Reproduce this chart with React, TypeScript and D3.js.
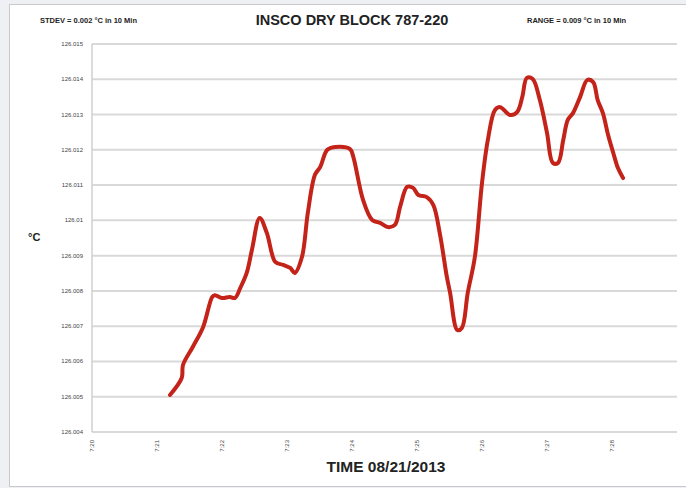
import React, { useEffect, useRef } from "react";
import * as d3 from "d3";

// time in tick intervals (0 = first label), temperature in °C
const times = [
  1.2, 1.38, 1.4, 1.55, 1.71, 1.85, 1.89, 2.0, 2.12, 2.2, 2.28, 2.38, 2.46, 2.58, 2.69, 2.82,
  2.94, 3.05, 3.12, 3.23, 3.32, 3.43, 3.51, 3.62, 3.74, 3.97, 4.02, 4.17, 4.31, 4.43, 4.55,
  4.66, 4.74, 4.85, 4.94, 5.02, 5.15, 5.25, 5.35, 5.46, 5.51, 5.62, 5.69, 5.78, 5.89, 6.0,
  6.09, 6.2, 6.28, 6.43, 6.54, 6.62, 6.69, 6.78, 6.89, 7.0, 7.09, 7.17, 7.25, 7.32, 7.4,
  7.51, 7.62, 7.71, 7.78, 7.86, 7.94, 8.02, 8.09, 8.17,
];
const temps = [
  126.00505, 126.00553, 126.0059, 126.00641, 126.00698, 126.00783, 126.00788, 126.0078,
  126.00783, 126.0078, 126.00808, 126.00851, 126.00916, 126.01007, 126.00964, 126.00882,
  126.00874, 126.00865, 126.00851, 126.00896, 126.01021, 126.01129, 126.01151, 126.012,
  126.01208, 126.01202, 126.0118, 126.01058, 126.01001, 126.00993, 126.00981, 126.00987,
  126.01038, 126.01095, 126.01092, 126.01072, 126.01066, 126.01044, 126.00964, 126.00839,
  126.00794, 126.00689, 126.00695, 126.00794, 126.00896, 126.01106, 126.01228, 126.01313,
  126.01321, 126.01299, 126.01307, 126.0135, 126.01404, 126.01401, 126.01341, 126.01248,
  126.01163, 126.01163, 126.01228, 126.01285, 126.01304, 126.0135, 126.01398, 126.01392,
  126.01341, 126.01304, 126.01242, 126.01191, 126.01149, 126.0112,
];
const yTicks = [
  126.004, 126.005, 126.006, 126.007, 126.008, 126.009, 126.01, 126.011, 126.012, 126.013,
  126.014, 126.015,
];
const xLabels = ["7:20", "7:21", "7:22", "7:23", "7:24", "7:25", "7:26", "7:27", "7:28"];

const W = 686;
const H = 488;

export default function App() {
  const svgRef = useRef<SVGSVGElement | null>(null);

  useEffect(() => {
    const svg = d3.select(svgRef.current);
    svg.selectAll("*").remove();
    const font = "'Liberation Sans', Arial, sans-serif";

    const m = { top: 44, right: 9, bottom: 56, left: 92 };
    const x = d3.scaleLinear().domain([0, 9]).range([m.left, W - m.right]);
    const y = d3.scaleLinear().domain([126.004, 126.015]).range([H - m.bottom, m.top]);

    // frame
    svg.append("rect").attr("width", W).attr("height", H).attr("fill", "#eff0f4");
    svg
      .append("rect")
      .attr("x", 9.5)
      .attr("y", 4.5)
      .attr("width", W)
      .attr("height", 482)
      .attr("fill", "#fff")
      .attr("stroke", "#c9c9cc");

    // grid
    svg
      .append("g")
      .selectAll("line")
      .data(yTicks)
      .join("line")
      .attr("x1", m.left)
      .attr("x2", W - m.right)
      .attr("y1", (d) => y(d))
      .attr("y2", (d) => y(d))
      .attr("stroke", "#d9d9d9")
      .attr("stroke-width", 2);

    svg
      .append("line")
      .attr("x1", m.left)
      .attr("x2", m.left)
      .attr("y1", y(126.015))
      .attr("y2", y(126.004))
      .attr("stroke", "#cfcfcf")
      .attr("stroke-width", 1.5);

    // y labels
    svg
      .append("g")
      .selectAll("text")
      .data(yTicks)
      .join("text")
      .attr("x", m.left - 9)
      .attr("y", (d) => y(d) + 2)
      .attr("text-anchor", "end")
      .attr("font-family", font)
      .attr("font-size", 6)
      .attr("fill", "#444")
      .text((d) => d3.format("")(+d.toFixed(3)));

    // x labels (rotated)
    svg
      .append("g")
      .selectAll("text")
      .data(xLabels)
      .join("text")
      .attr("transform", (d, i) => `translate(${x(i) + 2},440) rotate(-90)`)
      .attr("text-anchor", "end")
      .attr("font-family", font)
      .attr("font-size", 6)
      .attr("fill", "#444")
      .text((d) => d);

    // line
    const data = times.map((t, i) => ({ t, v: temps[i] }));
    const line = d3
      .line<{ t: number; v: number }>()
      .x((d) => x(d.t))
      .y((d) => y(d.v))
      .curve(d3.curveCatmullRom);
    svg
      .append("path")
      .datum(data)
      .attr("fill", "none")
      .attr("stroke", "#c4231a")
      .attr("stroke-width", 4)
      .attr("stroke-linejoin", "round")
      .attr("stroke-linecap", "round")
      .attr("d", line);

    // titles
    svg
      .append("text")
      .attr("x", 352)
      .attr("y", 25)
      .attr("text-anchor", "middle")
      .attr("font-family", font)
      .attr("font-weight", "bold")
      .attr("font-size", 14.5)
      .attr("fill", "#222")
      .text("INSCO DRY BLOCK 787-220");
    svg
      .append("text")
      .attr("x", 40)
      .attr("y", 23)
      .attr("font-family", font)
      .attr("font-weight", "bold")
      .attr("font-size", 7.5)
      .attr("fill", "#222")
      .text("STDEV = 0.002 °C in 10 Min");
    svg
      .append("text")
      .attr("x", 527)
      .attr("y", 23)
      .attr("font-family", font)
      .attr("font-weight", "bold")
      .attr("font-size", 7.5)
      .attr("fill", "#222")
      .text("RANGE = 0.009 °C in 10 Min");
    svg
      .append("text")
      .attr("x", 28)
      .attr("y", 241)
      .attr("font-family", font)
      .attr("font-weight", "bold")
      .attr("font-size", 11)
      .attr("fill", "#222")
      .text("°C");
    svg
      .append("text")
      .attr("x", 386)
      .attr("y", 472)
      .attr("text-anchor", "middle")
      .attr("font-family", font)
      .attr("font-weight", "bold")
      .attr("font-size", 15.5)
      .attr("fill", "#222")
      .text("TIME 08/21/2013");
  }, []);

  return (
    <svg
      ref={svgRef}
      width={W}
      height={H}
      style={{ position: "absolute", left: 0, top: 0, display: "block" }}
    />
  );
}
